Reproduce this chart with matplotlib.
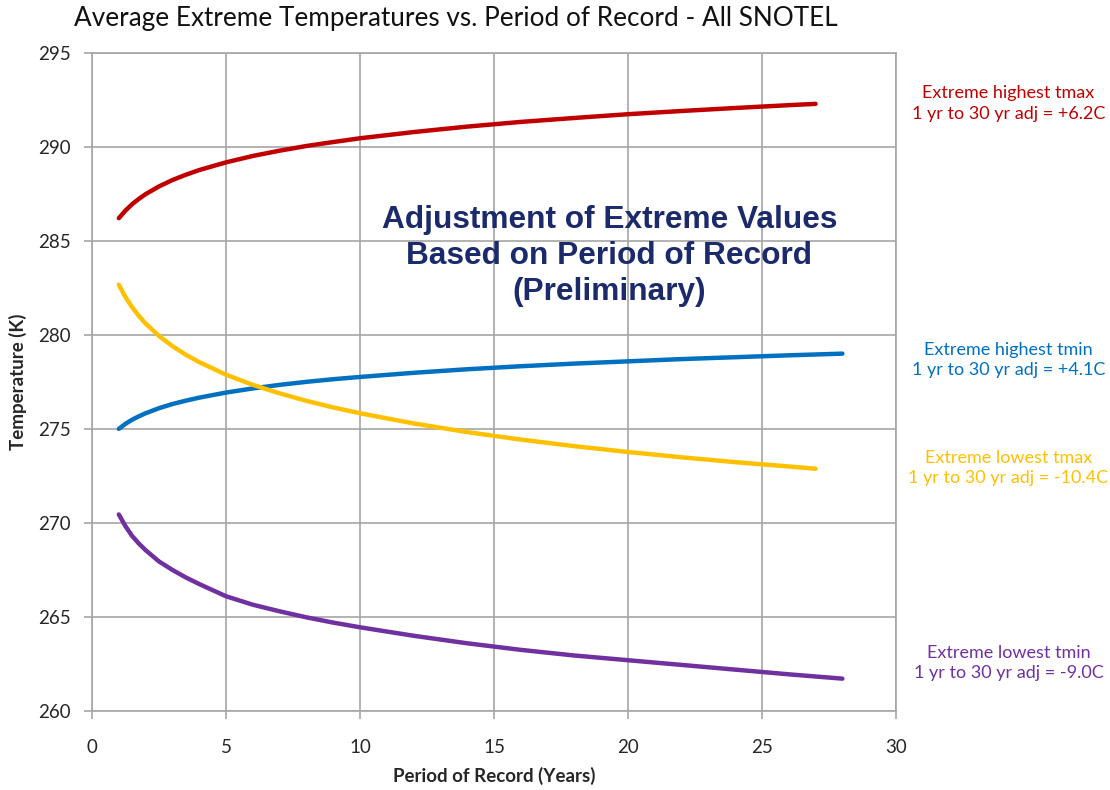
import numpy as np
import matplotlib
matplotlib.use("Agg")
import matplotlib.pyplot as plt

plt.rcParams["font.family"] = ["Lato", "DejaVu Sans"]

# period of record (years) and average extreme temps (K)
yrs_a = [1, 1.25, 1.5, 1.75, 2, 2.5, 3, 3.5, 4, 5, 6, 7, 8, 9, 10, 12, 14, 16, 18, 20, 22, 24, 26, 27]
yrs_b = [1, 1.25, 1.5, 1.75, 2, 2.5, 3, 3.5, 4, 5, 6, 7, 8, 9, 10, 12, 14, 16, 18, 20, 22, 24, 26, 28]

hi_tmax = [286.2, 286.61, 286.95, 287.23, 287.48, 287.89, 288.23, 288.51, 288.76, 289.17,
           289.51, 289.79, 290.04, 290.25, 290.45, 290.78, 291.07, 291.32, 291.53, 291.73,
           291.90, 292.06, 292.21, 292.28]
hi_tmin = [275.0, 275.27, 275.49, 275.67, 275.83, 276.10, 276.32, 276.50, 276.66, 276.93,
           277.15, 277.34, 277.50, 277.64, 277.76, 277.98, 278.17, 278.33, 278.47, 278.59,
           278.71, 278.81, 278.91, 279.0]
lo_tmax = [282.66, 282.0, 281.46, 281.0, 280.60, 279.94, 279.40, 278.94, 278.55, 277.88,
           277.34, 276.89, 276.49, 276.14, 275.83, 275.29, 274.83, 274.43, 274.08, 273.77,
           273.49, 273.23, 273.0, 272.88]
lo_tmin = [270.45, 269.82, 269.3, 268.9, 268.55, 267.95, 267.5, 267.1, 266.75, 266.1,
           265.65, 265.3, 264.98, 264.7, 264.45, 264.0, 263.6, 263.25, 262.95, 262.7,
           262.45, 262.2, 261.95, 261.72]

labels = ["Extreme highest tmax\n1 yr to 30 yr adj = +6.2C",
          "Extreme highest tmin\n1 yr to 30 yr adj = +4.1C",
          "Extreme lowest tmax\n1 yr to 30 yr adj = -10.4C",
          "Extreme lowest tmin\n1 yr to 30 yr adj = -9.0C"]
label_y = [292.3, 278.65, 272.92, 262.56]

red = "#C00000"
blue = "#0070C0"
yellow = "#FFC000"
purple = "#7030A0"
grid_c = "#A6A6A6"

fig = plt.figure(figsize=(11.1, 7.9), dpi=100)
ax = fig.add_axes([0.0829, 0.1, 0.7243, 0.8333])

for xs, ys, c in [(yrs_a, hi_tmax, red), (yrs_b, hi_tmin, blue),
                  (yrs_a, lo_tmax, yellow), (yrs_b, lo_tmin, purple)]:
    ax.plot(xs, ys, color=c, lw=3.2, solid_capstyle="round", solid_joinstyle="round")

ax.set_xlim(0, 30)
ax.set_ylim(260, 295)
ax.set_xticks(np.arange(0, 31, 5))
ax.set_yticks(np.arange(260, 296, 5))
ax.grid(True, color=grid_c, lw=1.2)
ax.set_axisbelow(True)
for s in ax.spines.values():
    s.set_color(grid_c)
    s.set_linewidth(1.2)
ax.tick_params(colors=grid_c, labelcolor="#262626", labelsize=13.5, length=6, width=1.2)
ax.tick_params(axis="x", pad=14)
ax.tick_params(axis="y", pad=9)

ax.set_xlabel("Period of Record (Years)", fontsize=13.5, fontweight="bold", color="#262626", labelpad=8)
ax.set_ylabel("Temperature (K)", fontsize=13.5, fontweight="bold", color="#262626", labelpad=8)
fig.text(0.411, 0.977, "Average Extreme Temperatures vs. Period of Record - All SNOTEL",
         ha="center", va="center", fontsize=18.8, color="#111111")

ax.text(19.3, 284.2, "Adjustment of Extreme Values\nBased on Period of Record\n(Preliminary)",
        ha="center", va="center", fontsize=22.8, fontweight="bold", color="#1B2A6B",
        family=["Liberation Sans", "DejaVu Sans"], linespacing=1.27)

for txt, yv, c in zip(labels, label_y, [red, blue, yellow, purple]):
    ax.text(34.2, yv, txt, ha="center", va="center", fontsize=13, color=c,
            linespacing=1.35, clip_on=False)

fig.savefig("out.png", dpi=100)
